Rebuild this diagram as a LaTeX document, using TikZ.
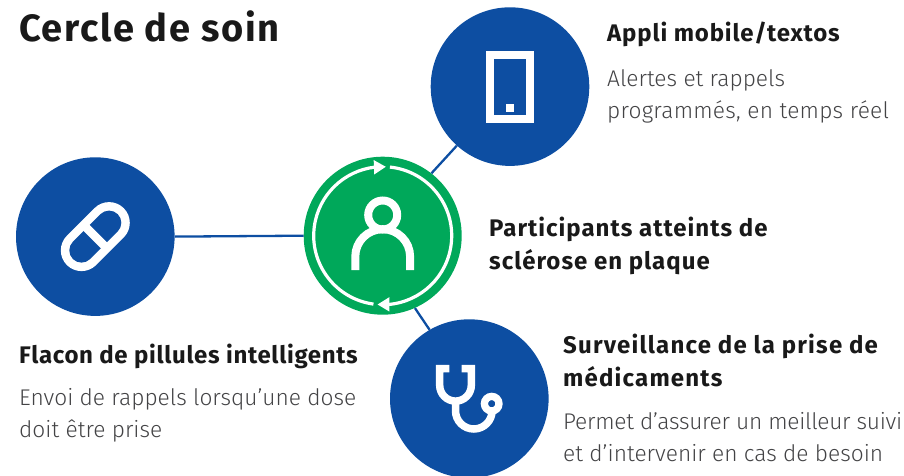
\documentclass[tikz,border=0pt]{standalone}
\usepackage{fontspec}
\setmainfont{Fira Sans}
\newfontfamily\headfont[LetterSpace=3.5]{Fira Sans}
\newfontfamily\titlefont[LetterSpace=4.5]{Fira Sans}
\newfontfamily\bodyfont{Fira Sans Light}
\usetikzlibrary{arrows.meta,bending}
\definecolor{soinblue}{HTML}{0D4EA2}
\definecolor{soingreen}{HTML}{00A85A}
\definecolor{soingray}{HTML}{434345}
\tikzset{
    bluedot/.style={circle, fill=soinblue, minimum size=158.6pt, inner sep=0pt},
    greendot/.style={circle, fill=soingreen, minimum size=158pt, inner sep=0pt},
    link/.style={draw=soinblue, line width=2.3pt},
    icon/.style={draw=white, line width=8pt},
    ring/.style={draw=white, line width=3.2pt, -{Triangle[length=12pt,width=13.5pt,flex]}},
    head/.style={anchor=base west, inner sep=0pt, align=left, font=\fontsize{24}{32.5}\selectfont\headfont\bfseries, text=black!90},
    body/.style={anchor=base west, inner sep=0pt, align=left, font=\fontsize{22.7}{32}\selectfont\bodyfont, text=soingray}
}
\begin{document}
\begin{tikzpicture}[x=1pt, y=-1pt]
    \useasboundingbox (0, 0) rectangle (904, 476);
    % circles
    \node[bluedot](phone) at (510, 86.6) {};
    \node[bluedot](pill) at (95.3, 236.6) {};
    \node[bluedot](stetho) at (469.3, 398.6) {};
    \node[greendot](patient) at (382.7, 235.7) {};
    % links
    \draw[link] (pill.0) -- (patient.180);
    \draw[link] (patient.52) -- (phone.228);
    \draw[link] (patient.-66) -- (stetho.120);
    % ring
    \draw[ring] (patient.center) ++(97.7:69) arc (97.7:272.7:69);
    \draw[ring] (patient.center) ++(-84:69) arc (-84:94.4:69);
    % person
    \draw[icon] (382.7, 215) circle (14.5);
    \draw[icon] (355.3, 270) -- (355.3, 256.6) arc (180:360:27.4) -- (410.1, 270);
    % phone
    \draw[icon] (490, 54.7) rectangle (530, 119.3);
    \fill[white] (506, 104) rectangle (514, 112);
    % pill
    \draw[white, line width=41.4pt, line cap=round] (81.5, 250.4) -- (109.1, 222.8);
    \draw[soinblue, line width=24.4pt, line cap=round] (81.5, 250.4) -- (109.1, 222.8);
    \draw[white, line width=8.5pt] (84.5, 225.8) -- (106.1, 247.4);
    % stethoscope
    \draw[icon, line width=7.5pt] (449.3, 368.7) -- (439.7, 368.7) -- (439.7, 385.3) arc (180:0:15.8) -- (471.3, 368.7) -- (461.7, 368.7);
    \draw[icon, line width=7.5pt] (455.5, 401.1) -- (455.5, 410.7) arc (180:0:18.3);
    \draw[icon, line width=7.3pt] (491.7, 403.7) circle (7.3);
    % texts
    \node[anchor=base west, inner sep=0pt, font=\fontsize{38}{38}\selectfont\titlefont\bfseries, text=black!90](title) at (19, 42) {Cercle de soin};
    \node[head](phonehead) at (607, 42) {Appli mobile/textos};
    \node[body](phonetext) at (607, 118) {Alertes et rappels\\\addfontfeature{LetterSpace=1}programmés, en temps réel};
    \node[head](patienthead) at (489, 269) {\addfontfeature{LetterSpace=4.2}Participants atteints de\\\addfontfeature{LetterSpace=4.2}sclérose en plaque};
    \node[head](pillhead) at (19, 363) {\addfontfeature{LetterSpace=2.8}Flacon de pillules intelligents};
    \node[body](pilltext) at (19, 437) {Envoi de rappels lorsqu’une dose\\doit être prise};
    \node[head](stethohead) at (563, 386) {\addfontfeature{LetterSpace=5}Surveillance de la prise de\\\addfontfeature{LetterSpace=5}médicaments};
    \node[body](stethotext) at (563, 461) {\addfontfeature{LetterSpace=-1.2}Permet d’assurer un meilleur suivi\\et d’intervenir en cas de besoin};
\end{tikzpicture}
\end{document}
